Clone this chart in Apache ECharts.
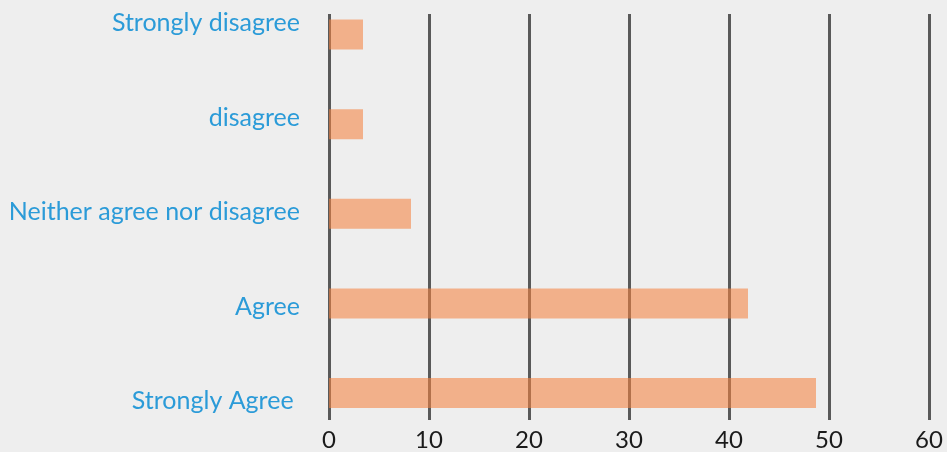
<!DOCTYPE html>
<html>
<head>
<meta charset="utf-8">
<script src="https://cdn.jsdelivr.net/npm/echarts@6/dist/echarts.min.js"></script>
<style>
  html, body { margin: 0; padding: 0; background: #eeeeee; }
  #chart { width: 947px; height: 452px; }
</style>
</head>
<body>
<div id="chart"></div>
<script>
// Survey responses, top to bottom
const categories = ['Strongly disagree', 'disagree', 'Neither agree nor disagree', 'Agree', 'Strongly Agree '];
const percentages = [3.4, 3.4, 8.2, 41.9, 48.7];
const xTicks = [0, 10, 20, 30, 40, 50, 60];

const FONT = 'Lato';
const xMin = xTicks[0];
const xMax = xTicks[xTicks.length - 1];
const xStep = xTicks[1] - xTicks[0];

const chart = echarts.init(document.getElementById('chart'), null, { renderer: 'canvas' });

chart.setOption({
  backgroundColor: '#eeeeee',
  animation: false,
  grid: [
    // gridlines + tick labels
    { left: 329, right: 18, top: 14, bottom: 32 },
    // bars
    { left: 329, right: 18, top: 34.5, bottom: 59 },
    // category labels
    { left: 329, right: 18, top: 23, bottom: 51 }
  ],
  xAxis: [
    {
      gridIndex: 0, type: 'value', min: xMin, max: xMax, interval: xStep,
      axisLine: { show: false }, axisTick: { show: false },
      splitLine: { show: true, lineStyle: { color: '#595959', width: 3 } },
      axisLabel: { color: '#1a1a1a', fontFamily: FONT, fontSize: 24, margin: 8 }
    },
    {
      gridIndex: 1, type: 'value', min: xMin, max: xMax, show: false,
      splitLine: { show: false }
    },
    {
      gridIndex: 2, type: 'value', min: xMin, max: xMax, show: false,
      splitLine: { show: false }
    }
  ],
  yAxis: [
    {
      gridIndex: 0, type: 'category', data: categories, inverse: true, show: false
    },
    {
      gridIndex: 1, type: 'category', data: categories, inverse: true,
      boundaryGap: false, show: false
    },
    {
      gridIndex: 2, type: 'category', data: categories, inverse: true,
      boundaryGap: false,
      axisLine: { show: false }, axisTick: { show: false },
      splitLine: { show: false },
      axisLabel: { color: '#2b9bd8', fontFamily: FONT, fontSize: 25, margin: 29 }
    }
  ],
  series: [
    {
      type: 'bar',
      xAxisIndex: 1,
      yAxisIndex: 1,
      data: percentages,
      barWidth: 30,
      z: 5,
      itemStyle: { color: 'rgba(245,131,66,0.58)' }
    }
  ]
});
</script>
</body>
</html>
